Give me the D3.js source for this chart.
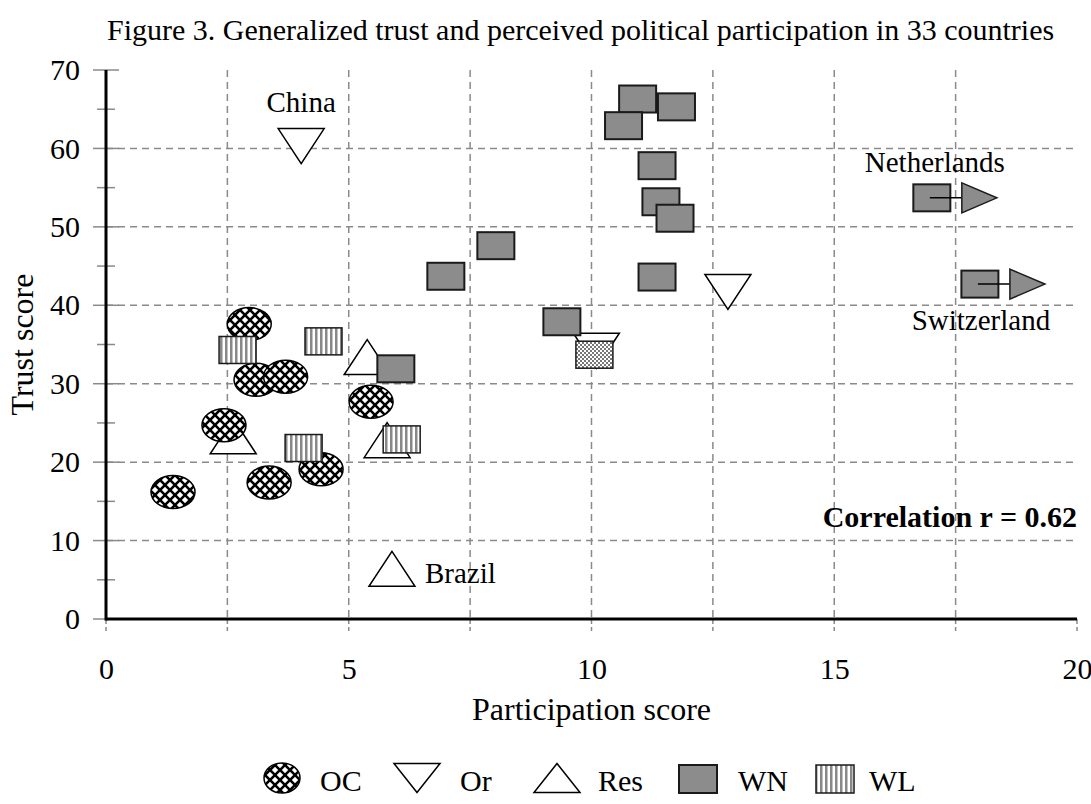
<!DOCTYPE html>
<html><head><meta charset="utf-8">
<script src="https://cdn.jsdelivr.net/npm/d3@7"></script>
<style>
body{margin:0;background:#fff}
svg{display:block}
</style>
</head><body><svg id="chart" width="1091" height="804"></svg>
<script>
// ---------- data ----------
const title = "Figure 3. Generalized trust and perceived political participation in 33 countries";
const xLabel = "Participation score";
const yLabel = "Trust score";
const xTicks = [0, 5, 10, 15, 20];
const yTicks = [0, 10, 20, 30, 40, 50, 60, 70];
const categories = ["OC", "Or", "Res", "WN", "WL"];
// [participation, trust]
const ocPoints = [[1.38,16.2],[2.95,37.6],[3.09,30.5],[3.7,30.9],[5.46,27.7],[2.43,24.7],[3.36,17.4],[4.43,19.1]];
const orPoints = [[4.02,60.3],[12.81,41.7],[10.1,34.2]];
const resPoints = [[5.38,33.4],[2.62,23.3],[5.79,22.8],[5.89,6.4]];
const wnPoints = [[10.95,66.3],[11.75,65.3],[10.66,62.9],[11.35,57.8],[11.43,53.2],[11.72,51.1],[17.01,53.7],[8.03,47.6],[7.0,43.7],[11.35,43.6],[18.0,42.7],[9.39,37.9],[5.97,31.9]];
const wlPoints = [[4.48,35.4],[2.71,34.3],[6.09,22.9],[4.07,21.8]];
const otherPoints = [[10.06,33.7]];
const countryNames = ["China", "Netherlands", "Switzerland", "Brazil"];
const countryPoints = [[4.02,60.3],[17.01,53.7],[18.0,42.7],[5.89,6.4]];
const offScalePoints = [[17.01,53.7],[18.0,42.7]];
const correlationText = "Correlation r = 0.62";

// ---------- layout ----------
const FF = "'Liberation Serif', 'Times New Roman', Times, serif";
const FONT = 30;
const x = d3.scaleLinear().domain([0, 20]).range([106, 1077]);
const y = d3.scaleLinear().domain([0, 70]).range([619, 70]);
const svg = d3.select("#chart");
const defs = svg.append("defs");
const txt = (sel, size) => sel.style("font-family", FF).style("font-size", size + "px").style("fill", "#000");

// patterns
const pOC = defs.append("pattern").attr("id","pOC").attr("patternUnits","userSpaceOnUse").attr("width",10).attr("height",10);
pOC.append("rect").attr("width",10).attr("height",10).attr("fill","#fff");
pOC.append("path").attr("d","M-2,12 L12,-2 M-2,2 L2,-2 M8,12 L12,8").attr("stroke","#000").attr("stroke-width",2.6);
pOC.append("path").attr("d","M-2,-2 L12,12 M8,-2 L12,2 M-2,8 L2,12").attr("stroke","#000").attr("stroke-width",2.6);

const pWL = defs.append("pattern").attr("id","pWL").attr("patternUnits","userSpaceOnUse").attr("width",5).attr("height",5);
pWL.append("rect").attr("width",5).attr("height",5).attr("fill","#fff");
pWL.append("rect").attr("width",2.5).attr("height",5).attr("fill","#888");

const pCk = defs.append("pattern").attr("id","pCk").attr("patternUnits","userSpaceOnUse").attr("width",4).attr("height",4);
pCk.append("rect").attr("width",4).attr("height",4).attr("fill","#fff");
pCk.append("rect").attr("width",2).attr("height",2).attr("fill","#777");
pCk.append("rect").attr("x",2).attr("y",2).attr("width",2).attr("height",2).attr("fill","#777");

// title
txt(svg.append("text").attr("x",107).attr("y",40), FONT).text(title);

// gridlines
const grid = svg.append("g").attr("stroke","#8a8a8a").attr("stroke-width",1.5).attr("stroke-dasharray","7,5");
grid.selectAll("line.h").data([10,20,30,40,50,60]).join("line").attr("class","h")
  .attr("x1",x(0)).attr("x2",x(20)).attr("y1",d=>y(d)).attr("y2",d=>y(d));
grid.selectAll("line.v").data([2.5,5,7.5,10,12.5,15,17.5]).join("line").attr("class","v")
  .attr("y1",y(70)).attr("y2",y(0)).attr("x1",d=>x(d)).attr("x2",d=>x(d));

// tick marks
const tk = svg.append("g").attr("stroke","#8a8a8a").attr("stroke-width",1.5);
tk.selectAll("line.ym").data(yTicks).join("line").attr("class","ym")
  .attr("x1",x(0)-13).attr("x2",x(0)+13).attr("y1",d=>y(d)).attr("y2",d=>y(d));
tk.selectAll("line.yn").data([5,15,25,35,45,55,65]).join("line").attr("class","yn")
  .attr("x1",x(0)-9).attr("x2",x(0)+9).attr("y1",d=>y(d)).attr("y2",d=>y(d));
tk.selectAll("line.xt").data([0,2.5,5,7.5,10,12.5,15,17.5,20]).join("line").attr("class","xt")
  .attr("stroke-dasharray","5,3")
  .attr("y1",y(0)).attr("y2",y(0)+12).attr("x1",d=>x(d)).attr("x2",d=>x(d));

// axes labels via d3 axes
const ax = svg.append("g").attr("transform",`translate(0,${y(0)})`)
  .call(d3.axisBottom(x).tickValues(xTicks).tickFormat(d3.format("d")).tickSize(0).tickPadding(39));
const ay = svg.append("g").attr("transform",`translate(${x(0)},0)`)
  .call(d3.axisLeft(y).tickValues(yTicks).tickFormat(d3.format("d")).tickSize(0).tickPadding(26));
[ax, ay].forEach(g => {
  g.attr("font-family", null).attr("font-size", null);
  g.select(".domain").remove();
  txt(g.selectAll("text"), FONT);
});

// axis lines
svg.append("line").attr("x1",x(0)).attr("x2",x(0)).attr("y1",y(70)).attr("y2",y(0)+1.5).attr("stroke","#000").attr("stroke-width",3);
svg.append("line").attr("x1",x(0)).attr("x2",x(20)).attr("y1",y(0)).attr("y2",y(0)).attr("stroke","#000").attr("stroke-width",3);

// axis titles
txt(svg.append("text").attr("x",(x(0)+x(20))/2).attr("y",720).attr("text-anchor","middle"), FONT+2).text(xLabel);
txt(svg.append("text").attr("transform",`translate(33,${(y(0)+y(70))/2}) rotate(-90)`).attr("text-anchor","middle"), FONT+2).text(yLabel);

// marker shapes
const TW = 46, TH = 35, RW = 37, RH = 27, ERX = 22, ERY = 16.5;
const downTri = (cx,cy,w,h) => `M${cx-w/2},${cy-h/2} L${cx+w/2},${cy-h/2} L${cx},${cy+h/2} Z`;
const upTri = (cx,cy,w,h) => `M${cx},${cy-h/2} L${cx+w/2},${cy+h/2} L${cx-w/2},${cy+h/2} Z`;
const rightTri = (lx,cy,w,h) => `M${lx},${cy-h/2} L${lx+w},${cy} L${lx},${cy+h/2} Z`;

const marks = svg.append("g");
marks.selectAll("path.or").data(orPoints).join("path").attr("class","or")
  .attr("d",d=>downTri(x(d[0]),y(d[1]),TW,TH)).attr("fill","#fff").attr("stroke","#000").attr("stroke-width",1.5);
marks.selectAll("path.res").data(resPoints).join("path").attr("class","res")
  .attr("d",d=>upTri(x(d[0]),y(d[1]),TW,TH)).attr("fill","#fff").attr("stroke","#000").attr("stroke-width",1.5);
marks.selectAll("ellipse.oc").data(ocPoints).join("ellipse").attr("class","oc")
  .attr("cx",d=>x(d[0])).attr("cy",d=>y(d[1])).attr("rx",ERX).attr("ry",ERY)
  .attr("fill","url(#pOC)").attr("stroke","#000").attr("stroke-width",1.5);
marks.selectAll("rect.wn").data(wnPoints).join("rect").attr("class","wn")
  .attr("x",d=>x(d[0])-RW/2).attr("y",d=>y(d[1])-RH/2).attr("width",RW).attr("height",RH)
  .attr("fill","#8c8c8c").attr("stroke","#1a1a1a").attr("stroke-width",2);
// off-scale arrows
const arr = svg.append("g");
arr.selectAll("line").data(offScalePoints).join("line")
  .attr("x1",d=>x(d[0])-2).attr("x2",d=>x(d[0])+30).attr("y1",d=>y(d[1])).attr("y2",d=>y(d[1]))
  .attr("stroke","#000").attr("stroke-width",1.5);
arr.selectAll("path").data(offScalePoints).join("path")
  .attr("d",d=>rightTri(x(d[0])+30,y(d[1]),35,30)).attr("fill","#8c8c8c").attr("stroke","#1a1a1a").attr("stroke-width",1.5);
marks.selectAll("rect.wl").data(wlPoints).join("rect").attr("class","wl")
  .attr("x",d=>x(d[0])-RW/2).attr("y",d=>y(d[1])-RH/2).attr("width",RW).attr("height",RH)
  .attr("fill","url(#pWL)").attr("stroke","#1a1a1a").attr("stroke-width",1.5);
svg.append("g").selectAll("rect").data(otherPoints).join("rect")
  .attr("x",d=>x(d[0])-RW/2).attr("y",d=>y(d[1])-RH/2).attr("width",RW).attr("height",RH)
  .attr("fill","url(#pCk)").attr("stroke","#1a1a1a").attr("stroke-width",1.5);

// country labels
const labelOffsets = [{dx:0,dy:-34,a:"middle"},{dx:3,dy:-26,a:"middle"},{dx:1,dy:46,a:"middle"},{dx:33,dy:14,a:"start"}];
txt(svg.append("g").selectAll("text").data(countryNames).join("text")
  .attr("x",(d,i)=>x(countryPoints[i][0])+labelOffsets[i].dx)
  .attr("y",(d,i)=>y(countryPoints[i][1])+labelOffsets[i].dy)
  .attr("text-anchor",(d,i)=>labelOffsets[i].a), FONT-1).text(d=>d);

// correlation
txt(svg.append("text").attr("x",x(20)).attr("y",527).attr("text-anchor","end"), FONT).style("font-weight","bold").text(correlationText);

// legend
const legY = 778, legBase = 791;
const legSym = [282, 417, 557, 698, 835];
const legTxt = [320, 460, 598, 738, 869];
const lg = svg.append("g");
categories.forEach((c,i) => {
  const cx = legSym[i];
  if (c === "OC") lg.append("ellipse").attr("cx",cx).attr("cy",legY).attr("rx",18).attr("ry",15).attr("fill","url(#pOC)").attr("stroke","#000").attr("stroke-width",1.5);
  if (c === "Or") lg.append("path").attr("d",downTri(cx,legY,TW,29)).attr("fill","#fff").attr("stroke","#000").attr("stroke-width",1.5);
  if (c === "Res") lg.append("path").attr("d",upTri(cx,legY,TW,29)).attr("fill","#fff").attr("stroke","#000").attr("stroke-width",1.5);
  if (c === "WN") lg.append("rect").attr("x",cx-19).attr("y",legY-13).attr("width",38).attr("height",28).attr("fill","#8c8c8c").attr("stroke","#1a1a1a").attr("stroke-width",2);
  if (c === "WL") lg.append("rect").attr("x",cx-19).attr("y",legY-13).attr("width",38).attr("height",28).attr("fill","url(#pWL)").attr("stroke","#1a1a1a").attr("stroke-width",1.5);
  txt(lg.append("text").attr("x",legTxt[i]).attr("y",legBase), FONT).text(c);
});
</script></body></html>
